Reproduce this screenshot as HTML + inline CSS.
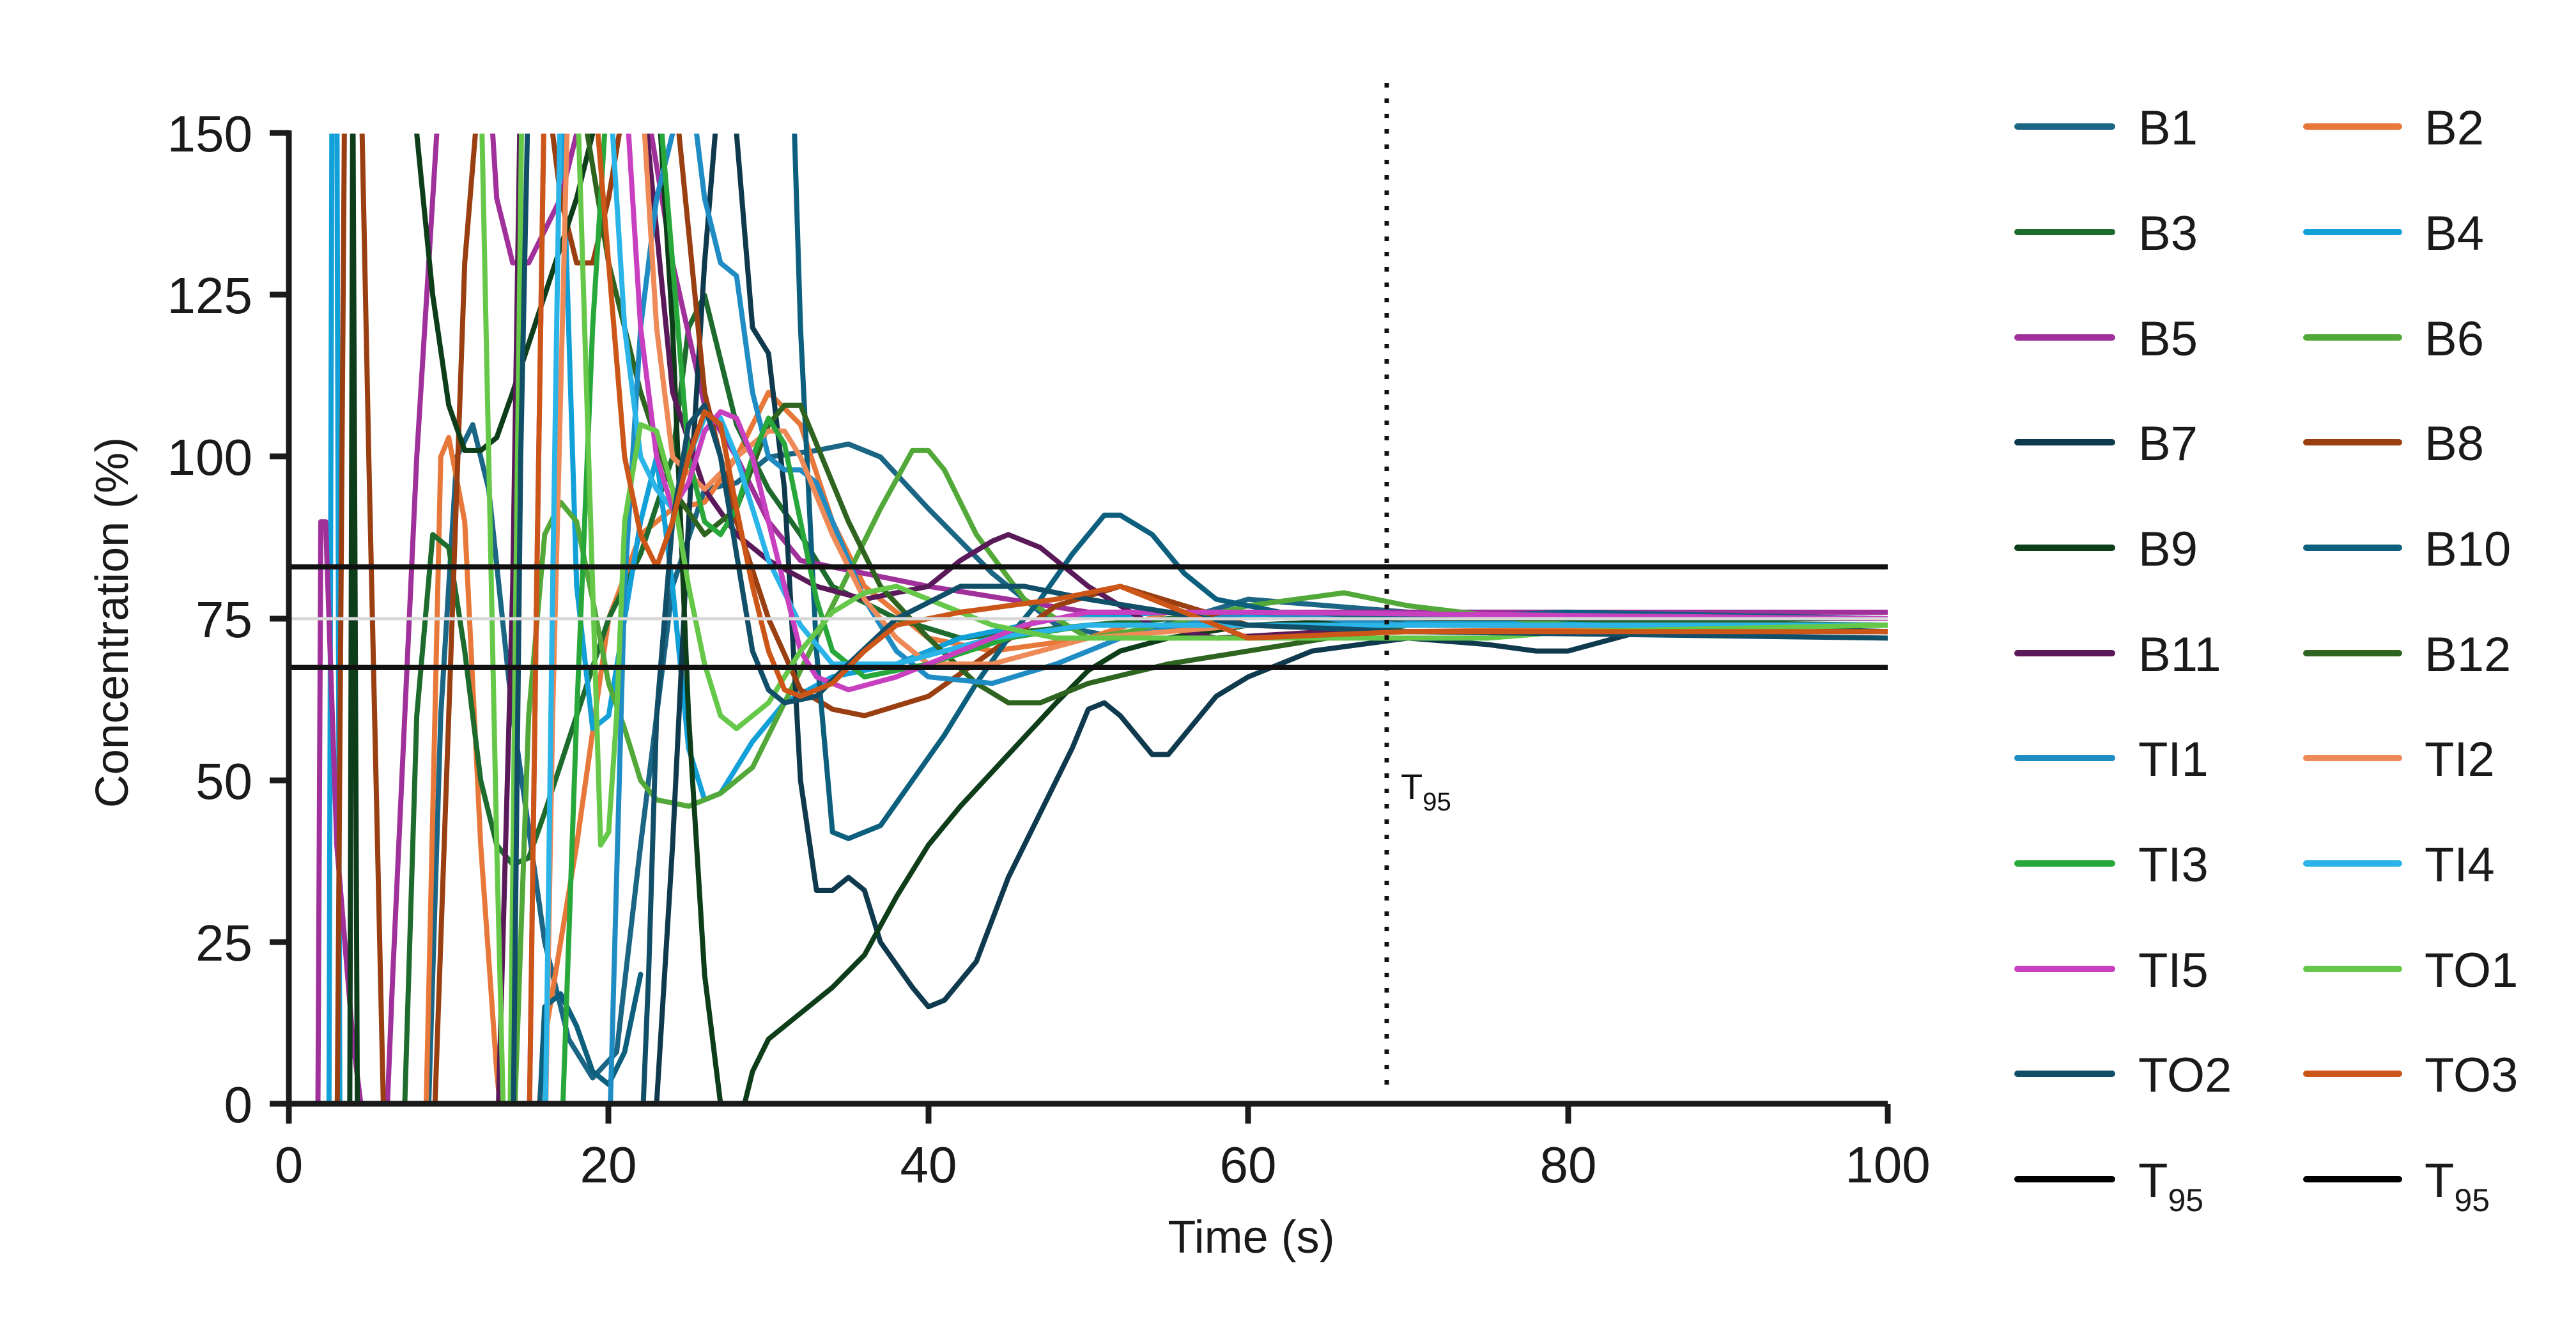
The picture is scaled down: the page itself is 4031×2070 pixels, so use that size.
<!DOCTYPE html>
<html><head><meta charset="utf-8"><style>
html,body{margin:0;padding:0;background:#fff;width:4031px;height:2070px;overflow:hidden;}
svg{display:block;font-family:"Liberation Sans",sans-serif;}
</style></head><body>
<svg width="4031" height="2070" viewBox="0 0 4031 2070" xmlns="http://www.w3.org/2000/svg">
<defs><clipPath id="c" clipPathUnits="userSpaceOnUse"><rect x="0" y="0" width="100" height="150"/></clipPath></defs>
<g transform="translate(452,1727) scale(25.02,-10.12)" clip-path="url(#c)" fill="none" stroke-width="8" stroke-linejoin="round" stroke-linecap="round">
<g>
<polyline vector-effect="non-scaling-stroke" stroke="#1b6585" points="0,-50 8.5,-20 9.5,60 10.5,100 11.5,105 12.5,95 14,60 16,25 17.5,10 19,4 20.5,8 22,40 24,80 26,95 28,96 30,100 33,101 35,102 37,100 40,92 44,82 48,74 52,72 56,75 60,78 65,77 70,76 80,76 100,75"/>
<polyline vector-effect="non-scaling-stroke" stroke="#e8783a" points="0,-50 8.5,-10 9.5,100 10,103 11,90 12,40 13,5 14,-20 15,-20 16,10 18,40 20,75 22,88 24,92 26,93 28,100 30,110 32,105 34,90 36,80 40,72 44,70 50,72 55,76 60,74 70,73 100,74"/>
<polyline vector-effect="non-scaling-stroke" stroke="#1e6b2e" points="0,-50 7,-20 8,60 9,88 10,86 11,70 12,50 13,40 14,37 15,38 16,45 18,60 20,75 22,85 24,100 25,120 26,125 27,115 28,105 30,95 32,88 34,80 38,75 42,72 50,74 60,76 70,75 100,74"/>
<path vector-effect="non-scaling-stroke" stroke="#12a0d8" d="M2.5,-10 L2.7,160 3,160 3.2,-10 M17,160 L18,80 19,58 20,60 21,75 22,90 23,100 24,80 25,55 26,47 27,48 29,56 31,62 34,66 38,68 42,72 48,75 55,76 65,75 100,73"/>
<path vector-effect="non-scaling-stroke" stroke="#a0309a" d="M1.8,-10 L2,90 2.3,90 3,40 4,10 5,-10 6,-10 6.5,20 8,100 9.5,160 M12.5,160 L13,140 14,130 15,130 16,135 17,140 18,150 19,160 M22,160 L24,130 26,108 28,100 30,90 32,84 36,82 40,80 45,78 50,76 60,76 70,76 100,76"/>
<polyline vector-effect="non-scaling-stroke" stroke="#52a838" points="14,-10 15,60 16,88 17,93 18,90 19,78 20,65 21,58 22,50 23,47 25,46 27,48 29,52 31,62 33,72 35,82 37,92 39,101 40,101 41,98 43,88 46,78 50,72 55,74 60,77 66,79 70,77 80,74 100,74"/>
<polyline vector-effect="non-scaling-stroke" stroke="#0f3a4e" points="21,-20 23,0 24,40 25,90 26,130 27,160 28,150 29,120 30,116 31,95 32,50 33,33 34,33 35,35 36,33 37,25 39,18 40,15 41,16 43,22 45,35 47,45 49,55 50,61 51,62 52,60 54,54 55,54 56,57 58,63 60,66 64,70 70,72 75,71 78,70 80,70 83,72 86,74 100,73"/>
<path vector-effect="non-scaling-stroke" stroke="#9a3f12" d="M3,-10 L3.5,160 4.5,160 5,100 6,-10 M9,-10 L10,60 11,130 12,160 M16,160 L17,140 18,130 19,130 20,140 21,155 22,165 M24,160 L26,110 28,90 30,75 32,64 34,61 36,60 40,63 44,70 48,77 52,80 56,77 60,74 70,74 100,74"/>
<path vector-effect="non-scaling-stroke" stroke="#0e3d1a" d="M3.8,-10 L4,160 4.3,-10 M7.5,170 L8,150 9,125 10,108 11,101 12,101 13,103 14,110 16,125 18,140 19,150 20,160 M23,160 L24,120 25,60 26,20 27,0 27.5,-10 M28,-5 L29,5 30,10 32,14 34,18 36,23 38,32 40,40 42,46 45,54 48,62 50,67 52,70 55,72 60,74 70,75 100,75"/>
<path vector-effect="non-scaling-stroke" stroke="#0d5f7e" d="M31.5,160 L32,120 33,70 34,42 35,41 37,43 39,50 41,57 43,65 45,72 47,78 49,85 51,91 52,91 54,88 56,82 58,78 62,76 70,75 80,76 100,75 M15.5,-10 L16,15 17,17 18,12 19,5 20,3 21,8 22,20"/>
<path vector-effect="non-scaling-stroke" stroke="#5a1a5a" d="M13,-10 L14,80 14.5,160 M22,160 L24,110 26,95 28,88 30,84 33,80 36,78 40,80 42,84 44,87 45,88 47,86 50,80 54,74 58,72 65,73 75,73 100,73"/>
<polyline vector-effect="non-scaling-stroke" stroke="#2f6420" points="18,160 20,130 22,110 24,95 26,88 28,92 30,105 31,108 32,108 33,102 35,90 37,80 40,72 43,65 45,62 47,62 50,65 55,68 60,70 65,72 70,74 100,74"/>
<path vector-effect="non-scaling-stroke" stroke="#1f8cc4" d="M20,-10 L21,80 22,120 23,140 24,150 25,160 26,140 27,130 28,128 29,110 30,100 31,98 32,98 33,96 34,90 35,84 36,78 38,70 40,66 44,65 48,68 52,72 56,74 60,76 70,74 100,74"/>
<path vector-effect="non-scaling-stroke" stroke="#ee8a58" d="M16,-10 L16.5,60 17,110 17.5,160 M22,160 L23,120 24,100 26,95 28,100 30,104 31,104 32,100 34,88 36,78 38,72 40,68 44,68 50,72 60,74 100,74"/>
<path vector-effect="non-scaling-stroke" stroke="#28a83a" d="M17,-10 L18,60 19,120 20,160 M23,160 L24,130 25,100 26,90 27,88 28,92 29,100 30,106 31,102 32,90 33,78 34,70 36,66 40,68 45,72 50,74 60,74 100,74"/>
<path vector-effect="non-scaling-stroke" stroke="#2ab4e8" d="M16,-10 L16.5,80 17,160 M20,160 L21,120 22,100 23,95 24,92 25,100 26,106 27,106 28,100 29,92 30,84 32,74 34,68 38,68 44,72 50,74 60,74 100,74"/>
<path vector-effect="non-scaling-stroke" stroke="#c840c0" d="M15,-10 L15.5,80 16,160 M21,160 L22,120 23,100 24,92 25,96 26,104 27,107 28,106 29,100 30,90 31,80 32,70 33,66 35,64 38,66 42,70 46,74 50,76 60,76 100,75"/>
<path vector-effect="non-scaling-stroke" stroke="#66c848" d="M12,160 L12.5,100 13,40 13.5,-10 M13.8,-10 L14.2,80 14.6,160 M18,160 L19,80 19.5,40 20,42 20.5,60 21,90 22,105 23,104 24,95 25,80 26,68 27,60 28,58 30,62 32,70 34,76 36,79 38,80 40,78 44,74 48,72 55,72 65,72 75,72 80,73 100,74"/>
<path vector-effect="non-scaling-stroke" stroke="#114e68" d="M14,-10 L14.5,100 15,160 M22,-10 L22.5,20 23,60 24,90 25,105 26,108 27,100 28,85 29,70 30,64 31,62 33,63 35,68 38,75 42,80 46,80 50,78 55,76 60,74 70,73 100,72"/>
<path vector-effect="non-scaling-stroke" stroke="#cc5518" d="M15,-10 L15.5,80 16,160 M19,160 L20,130 21,100 22,88 23,83 24,90 25,100 26,107 27,105 28,92 29,80 30,70 31,64 32,63 34,65 36,70 38,74 42,76 48,78 52,80 56,76 60,72 70,73 100,73"/>
</g></g>
<line x1="456" y1="968" x2="2954" y2="968" stroke="#d8d8d8" stroke-width="5"/>
<line x1="456" y1="887" x2="2954" y2="887" stroke="#111" stroke-width="8"/>
<line x1="456" y1="1044" x2="2954" y2="1044" stroke="#111" stroke-width="8"/>
<line x1="2170" y1="130" x2="2170" y2="1714" stroke="#111" stroke-width="7" stroke-dasharray="7,17"/>
<text x="2192" y="1250" font-size="56" fill="#111">T<tspan font-size="40" dy="18">95</tspan></text>
<g stroke="#1a1a1a" stroke-width="9" fill="none">
<path d="M452,204 V1727 H2954"/>
<path d="M422,208 H452 M422,461 H452 M422,714 H452 M422,968 H452 M422,1221 H452 M422,1474 H452 M422,1727 H452"/>
<path d="M452,1727 V1758 M952,1727 V1758 M1453,1727 V1758 M1953,1727 V1758 M2454,1727 V1758 M2954,1727 V1758"/>
</g>
<g font-size="80" fill="#1a1a1a" text-anchor="end">
<text x="395" y="237">150</text><text x="395" y="490">125</text><text x="395" y="743">100</text>
<text x="395" y="997">75</text><text x="395" y="1250">50</text><text x="395" y="1503">25</text><text x="395" y="1756">0</text>
</g>
<g font-size="80" fill="#1a1a1a" text-anchor="middle">
<text x="452" y="1850">0</text><text x="952" y="1850">20</text><text x="1453" y="1850">40</text>
<text x="1953" y="1850">60</text><text x="2454" y="1850">80</text><text x="2954" y="1850">100</text>
<text x="1958" y="1960" font-size="72">Time (s)</text>
<text transform="translate(200,974) rotate(-90)" font-size="72">Concentration (%)</text>
</g>
<g transform="translate(-32,-5)">
<g stroke-width="10" stroke-linecap="round">
<line x1="3189" x2="3337" y1="203" y2="203" stroke="#1b6585"/><line x1="3641" x2="3786" y1="203" y2="203" stroke="#e8783a"/>
<line x1="3189" x2="3337" y1="368" y2="368" stroke="#1e6b2e"/><line x1="3641" x2="3786" y1="368" y2="368" stroke="#12a0d8"/>
<line x1="3189" x2="3337" y1="533" y2="533" stroke="#a0309a"/><line x1="3641" x2="3786" y1="533" y2="533" stroke="#52a838"/>
<line x1="3189" x2="3337" y1="697" y2="697" stroke="#0f3a4e"/><line x1="3641" x2="3786" y1="697" y2="697" stroke="#9a3f12"/>
<line x1="3189" x2="3337" y1="862" y2="862" stroke="#0e3d1a"/><line x1="3641" x2="3786" y1="862" y2="862" stroke="#0d5f7e"/>
<line x1="3189" x2="3337" y1="1027" y2="1027" stroke="#5a1a5a"/><line x1="3641" x2="3786" y1="1027" y2="1027" stroke="#2f6420"/>
<line x1="3189" x2="3337" y1="1191" y2="1191" stroke="#1f8cc4"/><line x1="3641" x2="3786" y1="1191" y2="1191" stroke="#ee8a58"/>
<line x1="3189" x2="3337" y1="1356" y2="1356" stroke="#28a83a"/><line x1="3641" x2="3786" y1="1356" y2="1356" stroke="#2ab4e8"/>
<line x1="3189" x2="3337" y1="1521" y2="1521" stroke="#c840c0"/><line x1="3641" x2="3786" y1="1521" y2="1521" stroke="#66c848"/>
<line x1="3189" x2="3337" y1="1685" y2="1685" stroke="#114e68"/><line x1="3641" x2="3786" y1="1685" y2="1685" stroke="#cc5518"/>
<line x1="3189" x2="3337" y1="1850" y2="1850" stroke="#000"/><line x1="3641" x2="3786" y1="1850" y2="1850" stroke="#000"/>
</g>
<g font-size="76" fill="#1a1a1a">
<text x="3378" y="231">B1</text><text x="3826" y="231">B2</text>
<text x="3378" y="396">B3</text><text x="3826" y="396">B4</text>
<text x="3378" y="561">B5</text><text x="3826" y="561">B6</text>
<text x="3378" y="725">B7</text><text x="3826" y="725">B8</text>
<text x="3378" y="890">B9</text><text x="3826" y="890">B10</text>
<text x="3378" y="1055">B11</text><text x="3826" y="1055">B12</text>
<text x="3378" y="1219">TI1</text><text x="3826" y="1219">TI2</text>
<text x="3378" y="1384">TI3</text><text x="3826" y="1384">TI4</text>
<text x="3378" y="1549">TI5</text><text x="3826" y="1549">TO1</text>
<text x="3378" y="1713">TO2</text><text x="3826" y="1713">TO3</text>
<text x="3378" y="1878">T<tspan font-size="50" dy="22">95</tspan></text><text x="3826" y="1878">T<tspan font-size="50" dy="22">95</tspan></text>
</g>
</g>
</svg>
</body></html>
